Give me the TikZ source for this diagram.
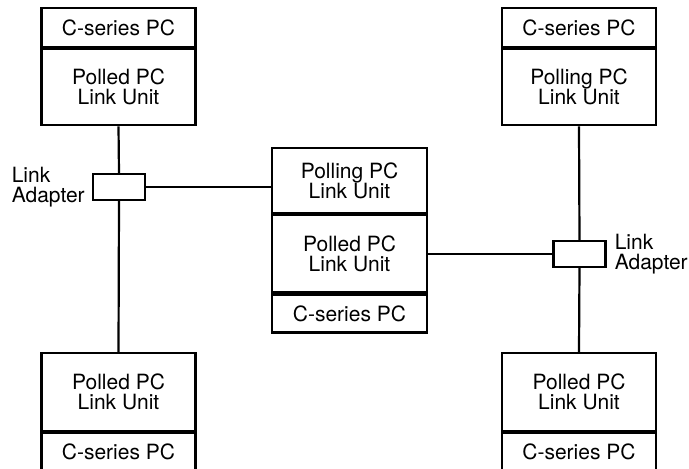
\documentclass[tikz,border=0pt]{standalone}
\usepackage{fontspec}
\setmainfont{TeX Gyre Heros}
\usetikzlibrary{positioning}

\tikzset{
  cell/.style={draw, line width=2.2pt, minimum width=154pt, inner sep=0pt,
    align=center, font=\fontsize{21}{20}\selectfont},
  adapter/.style={draw, line width=2.2pt, minimum width=52pt, minimum height=26pt, inner sep=0pt},
  wire/.style={line width=2.2pt},
  lbl/.style={align=left, inner sep=0pt, font=\fontsize{21}{20}\selectfont}
}

\begin{document}
\begin{tikzpicture}[x=1pt,y=-1pt]
  \useasboundingbox (0,0) rectangle (689,469);

  % Left column
  \node[cell, minimum height=39pt] (pcTL) at (118.5,27.5) {C-series PC};
  \node[cell, minimum height=76pt, below=0pt of pcTL] (unitTL) {Polled PC\\Link Unit};
  \node[adapter] (adL) at (119,187) {};
  \node[lbl, left=7pt of adL] (lblL) {Link\\Adapter};
  \node[cell, minimum height=78pt] (unitBL) at (118.5,392) {Polled PC\\Link Unit};
  \node[cell, minimum height=37pt, below=0pt of unitBL] (pcBL) {C-series PC};

  % Centre column
  \node[cell, minimum width=155pt, minimum height=65pt] (pollC) at (349.5,180.5) {Polling PC\\Link Unit};
  \node[cell, minimum width=155pt, minimum height=77pt, below=0pt of pollC] (polledC) {Polled PC\\Link Unit};
  \node[cell, minimum width=155pt, minimum height=38pt, below=0pt of polledC] (pcC) {C-series PC};

  % Right column
  \node[cell, minimum height=39pt] (pcTR) at (579,27.5) {C-series PC};
  \node[cell, minimum height=76pt, below=0pt of pcTR] (unitTR) {Polling PC\\Link Unit};
  \node[adapter] (adR) at (579.5,254) {};
  \node[lbl, right=8pt of adR] (lblR) {Link\\Adapter};
  \node[cell, minimum height=78pt] (unitBR) at (579,392) {Polled PC\\Link Unit};
  \node[cell, minimum height=37pt, below=0pt of unitBR] (pcBR) {C-series PC};

  % Links
  \draw[wire] (unitTL.south) -- (adL.north);
  \draw[wire] (adL.south) -- (unitBL.north);
  \draw[wire] (adL.east) -- (adL.east -| pollC.west);
  \draw[wire] (unitTR.south) -- (adR.north);
  \draw[wire] (adR.south) -- (unitBR.north);
  \draw[wire] (polledC.east) -- (polledC.east -| adR.west);
\end{tikzpicture}
\end{document}
